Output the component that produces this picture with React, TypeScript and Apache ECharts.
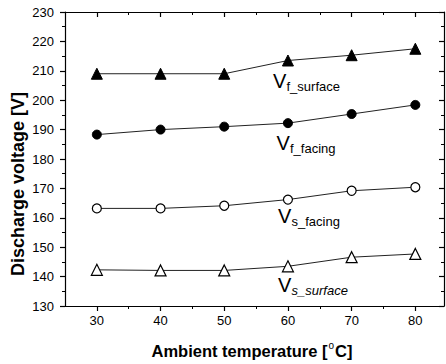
import React, { useEffect, useRef } from "react";
import * as echarts from "echarts";

const temperatures = [30, 40, 50, 60, 70, 80];
const vfSurface = [209, 209, 209, 213.5, 215.3, 217.5];
const vfFacing = [188.3, 190, 191, 192.2, 195.3, 198.4];
const vsFacing = [163.2, 163.2, 164.1, 166.2, 169.2, 170.4];
const vsSurface = [142.3, 142.1, 142.1, 143.5, 146.6, 147.7];
const xMajorTicks = [30, 40, 50, 60, 70, 80];
const xMinorTicks = [35, 45, 55, 65, 75];

const FONT = "'Liberation Sans', Arial, sans-serif";

function pairs(ys: number[]) {
  return temperatures.map((t, i) => [t, ys[i]]);
}

function seriesLabel(
  x: number,
  baseV: number,
  baseSub: number,
  sub: string,
  italic: boolean
) {
  return {
    type: "group",
    children: [
      {
        type: "text",
        x,
        y: baseV - 7,
        style: {
          text: "V",
          font: `20px ${FONT}`,
          fill: "#000",
          textAlign: "left",
          textVerticalAlign: "middle",
        },
      },
      {
        type: "text",
        x: x + 13.5,
        y: baseSub - 4.5,
        style: {
          text: sub,
          font: `${italic ? "italic " : ""}13px ${FONT}`,
          fill: "#000",
          textAlign: "left",
          textVerticalAlign: "middle",
        },
      },
    ],
  };
}

export default function App() {
  const ref = useRef<HTMLDivElement>(null);

  useEffect(() => {
    if (!ref.current) return;
    const chart = echarts.init(ref.current, null, { renderer: "svg" });
    const axisLine = { show: true, lineStyle: { color: "#000", width: 1.2 } };
    const xBase = {
      type: "value",
      min: 25,
      max: 84.5,
      splitLine: { show: false },
    };
    const line = { color: "#222", width: 1 };
    const option: any = {
      animation: false,
      backgroundColor: "#fff",
      grid: { left: 65, right: 2, top: 12, bottom: 58, containLabel: false },
      xAxis: [
        {
          ...xBase,
          position: "bottom",
          axisLine,
          axisTick: {
            show: true,
            length: 5,
            customValues: xMajorTicks,
            lineStyle: { color: "#000", width: 1.2 },
          },
          axisLabel: {
            customValues: xMajorTicks,
            color: "#000",
            fontSize: 13,
            fontFamily: FONT,
            margin: 8,
          },
        },
        {
          ...xBase,
          position: "bottom",
          axisLine: { show: false },
          axisTick: {
            show: true,
            length: 3,
            customValues: xMinorTicks,
            lineStyle: { color: "#000", width: 1 },
          },
          axisLabel: { show: false },
        },
        {
          ...xBase,
          position: "top",
          axisLine,
          axisTick: {
            show: true,
            inside: true,
            length: 5,
            customValues: xMajorTicks,
            lineStyle: { color: "#000", width: 1.2 },
          },
          axisLabel: { show: false },
        },
        {
          ...xBase,
          position: "top",
          axisLine: { show: false },
          axisTick: {
            show: true,
            inside: true,
            length: 3,
            customValues: xMinorTicks,
            lineStyle: { color: "#000", width: 1 },
          },
          axisLabel: { show: false },
        },
      ],
      yAxis: [
        {
          type: "value",
          position: "left",
          min: 130,
          max: 230,
          interval: 10,
          axisLine,
          axisTick: { show: true, length: 5, lineStyle: { color: "#000", width: 1.2 } },
          minorTick: { show: true, splitNumber: 2, length: 3, lineStyle: { color: "#000", width: 1 } },
          splitLine: { show: false },
          axisLabel: { color: "#000", fontSize: 13, fontFamily: FONT, margin: 11 },
        },
        {
          type: "value",
          position: "right",
          min: 130,
          max: 230,
          interval: 10,
          axisLine,
          axisTick: { show: true, inside: true, length: 5, lineStyle: { color: "#000", width: 1.2 } },
          minorTick: { show: true, splitNumber: 2, length: 3, lineStyle: { color: "#000", width: 1 } },
          splitLine: { show: false },
          axisLabel: { show: false },
        },
      ],
      series: [
        {
          name: "Vf_surface",
          type: "line",
          data: pairs(vfSurface),
          symbol: "triangle",
          symbolSize: 11,
          lineStyle: line,
          itemStyle: { color: "#000", borderColor: "#000", borderWidth: 1 },
        },
        {
          name: "Vf_facing",
          type: "line",
          data: pairs(vfFacing),
          symbol: "circle",
          symbolSize: 9,
          lineStyle: line,
          itemStyle: { color: "#000", borderColor: "#000", borderWidth: 1 },
        },
        {
          name: "Vs_facing",
          type: "line",
          data: pairs(vsFacing),
          symbol: "circle",
          symbolSize: 9,
          lineStyle: line,
          itemStyle: { color: "#fff", borderColor: "#000", borderWidth: 1.2 },
        },
        {
          name: "Vs_surface",
          type: "line",
          data: pairs(vsSurface),
          symbol: "triangle",
          symbolSize: 11,
          lineStyle: line,
          itemStyle: { color: "#fff", borderColor: "#000", borderWidth: 1.2 },
        },
      ],
      graphic: [
        seriesLabel(273, 88, 91, "f_surface", false),
        seriesLabel(276.5, 150, 153, "f_facing", false),
        seriesLabel(278, 223, 226, "s_facing", false),
        seriesLabel(278, 292, 295, "s_surface", true),
        {
          type: "text",
          x: 17.5,
          y: 184,
          rotation: Math.PI / 2,
          style: {
            text: "Discharge voltage [V]",
            font: `bold 18px ${FONT}`,
            fill: "#000",
            textAlign: "center",
            textVerticalAlign: "middle",
          },
        },
        {
          type: "text",
          x: 252,
          y: 350,
          style: {
            text: "{t|Ambient temperature [}{s|o}{t|C]}",
            rich: {
              t: { font: `bold 16.5px ${FONT}`, fill: "#000", verticalAlign: "bottom", lineHeight: 19 },
              s: { font: `10px ${FONT}`, fill: "#000", verticalAlign: "top", lineHeight: 19, padding: [0, 1, 0, 1] },
            },
            textAlign: "center",
            textVerticalAlign: "middle",
          },
        },
      ],
    };
    chart.setOption(option);
    return () => chart.dispose();
  }, []);

  return (
    <div
      ref={ref}
      style={{ position: "fixed", left: 0, top: 0, width: 446, height: 364 }}
    />
  );
}
